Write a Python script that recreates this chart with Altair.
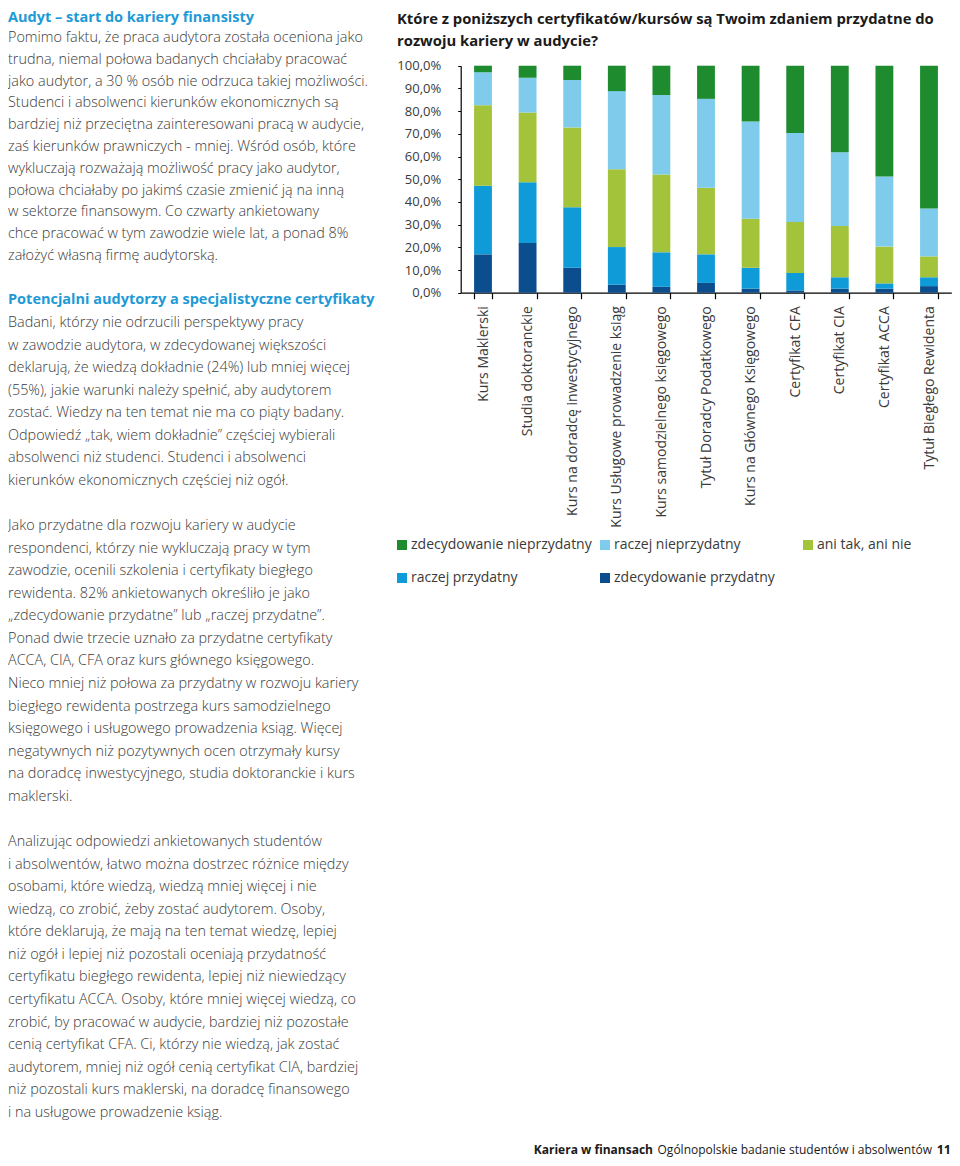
import altair as alt
import pandas as pd

# ---------------- data ----------------
categories = [
    "Kurs Maklerski",
    "Studia doktoranckie",
    "Kurs na doradcę inwestycyjnego",
    "Kurs Usługowe prowadzenie ksiąg",
    "Kurs samodzielnego księgowego",
    "Tytuł Doradcy Podatkowego",
    "Kurs na Głównego Księgowego",
    "Certyfikat CFA",
    "Certyfikat CIA",
    "Certyfikat ACCA",
    "Tytuł Biegłego Rewidenta",
]
series = [
    "zdecydowanie nieprzydatny",
    "raczej nieprzydatny",
    "ani tak, ani nie",
    "raczej przydatny",
    "zdecydowanie przydatny",
]
colors = ["#1e8b2f", "#7ecbec", "#a3c33a", "#0f9bd7", "#0b4d8d"]

zdecydowanie_nieprzydatny = [2.9, 5.3, 6.3, 11.2, 12.9, 14.6, 24.6, 29.6, 38.1, 48.8, 62.9]
raczej_nieprzydatny = [14.5, 15.3, 20.9, 34.4, 35.0, 39.2, 42.8, 39.2, 32.5, 30.9, 21.1]
ani_tak_ani_nie = [35.5, 30.7, 35.2, 34.3, 34.3, 29.3, 21.6, 22.5, 22.6, 16.2, 9.2]
raczej_przydatny = [30.2, 26.8, 26.6, 16.6, 15.2, 12.6, 9.2, 7.7, 5.0, 2.3, 3.9]
zdecydowanie_przydatny = [16.9, 21.9, 11.0, 3.5, 2.6, 4.3, 1.8, 1.0, 1.8, 1.8, 2.9]

y_ticks = [0.0, 0.1, 0.2, 0.3, 0.4, 0.5, 0.6, 0.7, 0.8, 0.9, 1.0]

chart_title = [
    "Które z poniższych certyfikatów/kursów są Twoim zdaniem przydatne do",
    "rozwoju kariery w audycie?",
]
heading1 = "Audyt – start do kariery finansisty"
para1 = [
    "Pomimo faktu, że praca audytora została oceniona jako",
    "trudna, niemal połowa badanych chciałaby pracować",
    "jako audytor, a 30 % osób nie odrzuca takiej możliwości.",
    "Studenci i absolwenci kierunków ekonomicznych są",
    "bardziej niż przeciętna zainteresowani pracą w audycie,",
    "zaś kierunków prawniczych - mniej. Wśród osób, które",
    "wykluczają rozważają możliwość pracy jako audytor,",
    "połowa chciałaby po jakimś czasie zmienić ją na inną",
    "w sektorze finansowym. Co czwarty ankietowany",
    "chce pracować w tym zawodzie wiele lat, a ponad 8%",
    "założyć własną firmę audytorską.",
]
heading2 = "Potencjalni audytorzy a specjalistyczne certyfikaty"
para2 = [
    "Badani, którzy nie odrzucili perspektywy pracy",
    "w zawodzie audytora, w zdecydowanej większości",
    "deklarują, że wiedzą dokładnie (24%) lub mniej więcej",
    "(55%), jakie warunki należy spełnić, aby audytorem",
    "zostać. Wiedzy na ten temat nie ma co piąty badany.",
    "Odpowiedź „tak, wiem dokładnie” częściej wybierali",
    "absolwenci niż studenci. Studenci i absolwenci",
    "kierunków ekonomicznych częściej niż ogół.",
]
para3 = [
    "Jako przydatne dla rozwoju kariery w audycie",
    "respondenci, którzy nie wykluczają pracy w  tym",
    "zawodzie, ocenili szkolenia i certyfikaty biegłego",
    "rewidenta. 82% ankietowanych określiło je jako",
    "„zdecydowanie przydatne” lub „raczej przydatne”.",
    "Ponad dwie trzecie uznało za przydatne certyfikaty",
    "ACCA, CIA, CFA oraz kurs głównego księgowego.",
    "Nieco mniej niż połowa za przydatny w rozwoju kariery",
    "biegłego rewidenta postrzega kurs samodzielnego",
    "księgowego i usługowego prowadzenia ksiąg. Więcej",
    "negatywnych niż pozytywnych ocen otrzymały kursy",
    "na doradcę inwestycyjnego, studia doktoranckie i kurs",
    "maklerski.",
]
para4 = [
    "Analizując odpowiedzi ankietowanych studentów",
    "i absolwentów, łatwo można dostrzec różnice między",
    "osobami, które wiedzą, wiedzą mniej więcej i nie",
    "wiedzą, co zrobić, żeby zostać audytorem. Osoby,",
    "które deklarują, że mają na ten temat wiedzę, lepiej",
    "niż ogół i lepiej niż pozostali oceniają przydatność",
    "certyfikatu biegłego rewidenta, lepiej niż niewiedzący",
    "certyfikatu ACCA. Osoby, które mniej więcej wiedzą, co",
    "zrobić, by pracować w audycie, bardziej niż pozostałe",
    "cenią certyfikat CFA. Ci, którzy nie wiedzą, jak zostać",
    "audytorem, mniej niż ogół cenią certyfikat CIA, bardziej",
    "niż pozostali kurs maklerski, na doradcę finansowego",
    "i na usługowe prowadzenie ksiąg.",
]
footer_bold = "Kariera w finansach"
footer_text = "Ogólnopolskie badanie studentów i absolwentów"
page_number = "11"

# ---------------- layout constants ----------------
W, H = 944, 1150
FONT = "Open Sans"
TEXT_COLOR = "#3a3a3a"
HEAD_COLOR = "#1e9ad6"
LH = 22.57
X0, X1 = 452.7, 943.3        # x extent of the bar plot (canvas px)
Y0, Y1 = 284.7, 57.7         # y of 0% and 100%

# ---------------- bar table ----------------
stack_values = [
    zdecydowanie_przydatny,
    raczej_przydatny,
    ani_tak_ani_nie,
    raczej_nieprzydatny,
    zdecydowanie_nieprzydatny,
]
stack_names = list(reversed(series))
rows = []
for i, c in enumerate(categories):
    for k, (name, vals) in enumerate(zip(stack_names, stack_values)):
        rows.append({"kat": c, "ocena": name, "wartosc": vals[i] / 100.0, "kolejnosc": k})
df = pd.DataFrame(rows)

color_scale = alt.Scale(domain=series, range=colors)

bars = alt.Chart(df).mark_bar().encode(
    x=alt.X(
        "kat:N",
        sort=categories,
        title=None,
        scale=alt.Scale(range=[X0, X1], paddingInner=0.6, paddingOuter=0.3),
        axis=alt.Axis(
            orient="bottom",
            offset=-(H - Y0),
            labelAngle=270,
            labelAlign="right",
            labelBaseline="middle",
            labelFont=FONT,
            labelFontSize=14,
            labelColor=TEXT_COLOR,
            labelLimit=400,
            labelPadding=7,
            tickBand="extent",
            tickSize=6,
            tickColor="#000000",
            domainColor="#000000",
            domainWidth=1.2,
            tickWidth=1.2,
            grid=False,
        ),
    ),
    y=alt.Y(
        "wartosc:Q",
        stack="zero",
        title=None,
        scale=alt.Scale(domain=[0, 1], range=[Y0, Y1], nice=False),
        axis=alt.Axis(
            orient="left",
            offset=-X0,
            values=y_ticks,
            labelExpr="replace(format(datum.value, '.1%'), '.', ',')",
            labelFont=FONT,
            labelFontSize=13,
            labelColor=TEXT_COLOR,
            labelPadding=17,
            tickSize=3,
            tickColor="#000000",
            domainColor="#000000",
            domainWidth=1.2,
            grid=False,
        ),
    ),
    color=alt.Color("ocena:N", scale=color_scale, legend=None),
    order=alt.Order("kolejnosc:Q", sort="ascending"),
)

# ---------------- manual legend ----------------
leg_rows = []
for i, s in enumerate(series):
    col, row = i % 3, i // 3
    leg_rows.append({"ocena": s, "lx": 394 + col * 203, "ly": 537 + row * 33})
leg = pd.DataFrame(leg_rows)

legend_sq = alt.Chart(leg).mark_square(size=100, opacity=1).encode(
    x=alt.X("lx:Q", scale=None, axis=None),
    y=alt.Y("ly:Q", scale=None, axis=None),
    color=alt.Color("ocena:N", scale=color_scale, legend=None),
)
legend_tx = alt.Chart(leg).mark_text(
    align="left", baseline="middle", dx=9, font=FONT, fontSize=14, color=TEXT_COLOR
).encode(
    x=alt.X("lx:Q", scale=None, axis=None),
    y=alt.Y("ly:Q", scale=None, axis=None),
    text="ocena:N",
)

# ---------------- text blocks ----------------
def block(lines, x, y_first, size, weight, color, align="left", lh=LH):
    d = pd.DataFrame({"line": lines, "py": [y_first + i * lh for i in range(len(lines))]})
    return alt.Chart(d).mark_text(
        align=align, baseline="middle", font=FONT, fontSize=size, fontWeight=weight, color=color
    ).encode(
        x=alt.value(x),
        y=alt.Y("py:Q", scale=None, axis=None),
        text="line:N",
    )

body_size = 14.4
layers = [
    bars,
    legend_sq,
    legend_tx,
    block(chart_title, 389, 12, 14.8, "bold", "#1a1a1a", lh=21.5),
    block([heading1], 0, 10, 14.5, "bold", HEAD_COLOR),
    block(para1, 0, 30, body_size, 300, TEXT_COLOR, lh=21.8),
    block([heading2], 0, 292, 14.5, "bold", HEAD_COLOR),
    block(para2, 0, 315, body_size, 300, TEXT_COLOR),
    block(para3, 0, 518, body_size, 300, TEXT_COLOR),
    block(para4, 0, 834, body_size, 300, TEXT_COLOR),
    block([footer_bold], 645, 1142, 12, "bold", "#1a1a1a", align="right"),
    block([footer_text], 924, 1142, 12, "normal", "#1a1a1a", align="right"),
    block([page_number], 943, 1142, 12.5, "bold", "#1a1a1a", align="right"),
]

chart = alt.layer(*layers).resolve_scale(x="independent", y="independent").properties(
    width=W,
    height=H,
    autosize=alt.AutoSizeParams(type="none"),
    padding=0,
).configure_view(stroke=None)

chart.save("out.html", embed_options={"renderer": "svg", "actions": False})
